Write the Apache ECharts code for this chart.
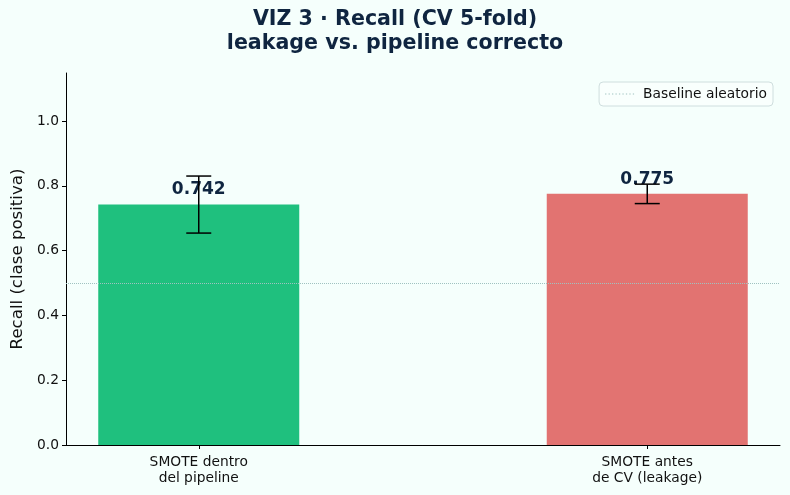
<!DOCTYPE html>
<html>
<head>
<meta charset="UTF-8">
<script src="https://cdn.jsdelivr.net/npm/echarts@6/dist/echarts.min.js"></script>
<title>VIZ 3</title>
<style>
  html, body { margin: 0; padding: 0; background: #f5fffc; }
</style>
</head>
<body>
<div id="main" style="width:790px;height:495px"></div>
<script type="text/javascript">
// datos
var categories = ['SMOTE dentro\ndel pipeline', 'SMOTE antes\nde CV (leakage)'];
var recallMean = [0.742, 0.775];
var recallStd = [0.088, 0.030];
var barColors = ['#1fc07e', '#e27371'];
var baseline = 0.5;
var yTicks = [0, 0.2, 0.4, 0.6, 0.8, 1.0];

var barData = recallMean.map(function (v, i) {
    return { value: [i, v], itemStyle: { color: barColors[i] } };
});
var errData = recallMean.map(function (v, i) {
    return [i, v - recallStd[i], v + recallStd[i]];
});

// icono punteado para la leyenda (linea de puntos)
var dotIcon = 'path://';
for (var k = 0; k < 9; k++) {
    dotIcon += 'M' + (k * 3.5) + ',0h1.3v1h-1.3z';
}

var myChart = echarts.init(document.getElementById('main'));

var option = {
    backgroundColor: '#f5fffc',
    animation: false,
    title: {
        text: 'VIZ 3 · Recall (CV 5-fold)\nleakage vs. pipeline correcto',
        left: 'center',
        top: 3,
        textStyle: {
            fontFamily: 'DejaVu Sans',
            fontWeight: 'bold',
            fontSize: 20.6,
            lineHeight: 24,
            color: '#0f2540'
        }
    },
    legend: {
        data: [{ name: 'Baseline aleatorio', icon: dotIcon }],
        right: 17,
        top: 82,
        itemWidth: 29,
        itemHeight: 1,
        itemGap: 6,
        symbolKeepAspect: false,
        padding: [5, 6, 5, 6],
        borderColor: '#cfdede',
        borderWidth: 1,
        borderRadius: 4,
        backgroundColor: 'rgba(255,255,255,0.4)',
        textStyle: { fontFamily: 'DejaVu Sans', fontSize: 13.8, color: '#111', padding: [0, 0, 0, 4] }
    },
    grid: { left: 66, right: 10, top: 73, bottom: 50 },
    xAxis: {
        type: 'value',
        min: -0.296,
        max: 1.296,
        axisLine: { show: true, onZero: false, lineStyle: { color: '#000', width: 1 } },
        axisTick: { show: true, customValues: [0, 1], length: 4, lineStyle: { color: '#000' } },
        splitLine: { show: false },
        axisLabel: {
            customValues: [0, 1],
            formatter: function (v) { return categories[Math.round(v)]; },
            fontFamily: 'DejaVu Sans',
            fontSize: 13.8,
            lineHeight: 16,
            color: '#111',
            margin: 9
        }
    },
    yAxis: {
        type: 'value',
        min: 0,
        max: 1.148,
        name: 'Recall (clase positiva)',
        nameLocation: 'middle',
        nameGap: 39,
        nameTextStyle: { fontFamily: 'DejaVu Sans', fontSize: 16.6, color: '#111' },
        axisLine: { show: true, onZero: false, lineStyle: { color: '#000', width: 1 } },
        axisTick: { show: true, customValues: yTicks, length: 4, lineStyle: { color: '#000' } },
        splitLine: { show: false },
        axisLabel: {
            customValues: yTicks,
            formatter: function (v) { return v.toFixed(1); },
            fontFamily: 'DejaVu Sans',
            fontSize: 13.8,
            color: '#111',
            margin: 7
        }
    },
    series: [
        {
            name: 'Recall',
            type: 'bar',
            barWidth: 201,
            data: barData,
            z: 2,
            label: {
                show: true,
                position: 'top',
                distance: 6,
                formatter: function (p) { return p.value[1].toFixed(3); },
                fontFamily: 'DejaVu Sans',
                fontWeight: 'bold',
                fontSize: 17,
                color: '#0f2540'
            }
        },
        {
            name: 'err',
            type: 'custom',
            z: 5,
            data: errData,
            renderItem: function (params, api) {
                var lo = api.coord([api.value(0), api.value(1)]);
                var hi = api.coord([api.value(0), api.value(2)]);
                var w = 12.5;
                var st = { stroke: '#000', lineWidth: 1.5 };
                return {
                    type: 'group',
                    children: [
                        { type: 'line', shape: { x1: lo[0], y1: lo[1], x2: hi[0], y2: hi[1] }, style: st },
                        { type: 'line', shape: { x1: lo[0] - w, y1: lo[1], x2: lo[0] + w, y2: lo[1] }, style: st },
                        { type: 'line', shape: { x1: hi[0] - w, y1: hi[1], x2: hi[0] + w, y2: hi[1] }, style: st }
                    ]
                };
            }
        },
        {
            name: 'Baseline aleatorio',
            type: 'line',
            data: [],
            symbol: 'none',
            z: 4,
            itemStyle: { color: '#9fc2c0' },
            lineStyle: { color: '#9fc2c0', type: 'dotted', width: 1 },
            markLine: {
                silent: true,
                symbol: 'none',
                label: { show: false },
                lineStyle: { color: '#9fc2c0', type: 'dotted', width: 1 },
                data: [{ yAxis: baseline }]
            }
        }
    ]
};

myChart.setOption(option);
</script>
</body>
</html>
